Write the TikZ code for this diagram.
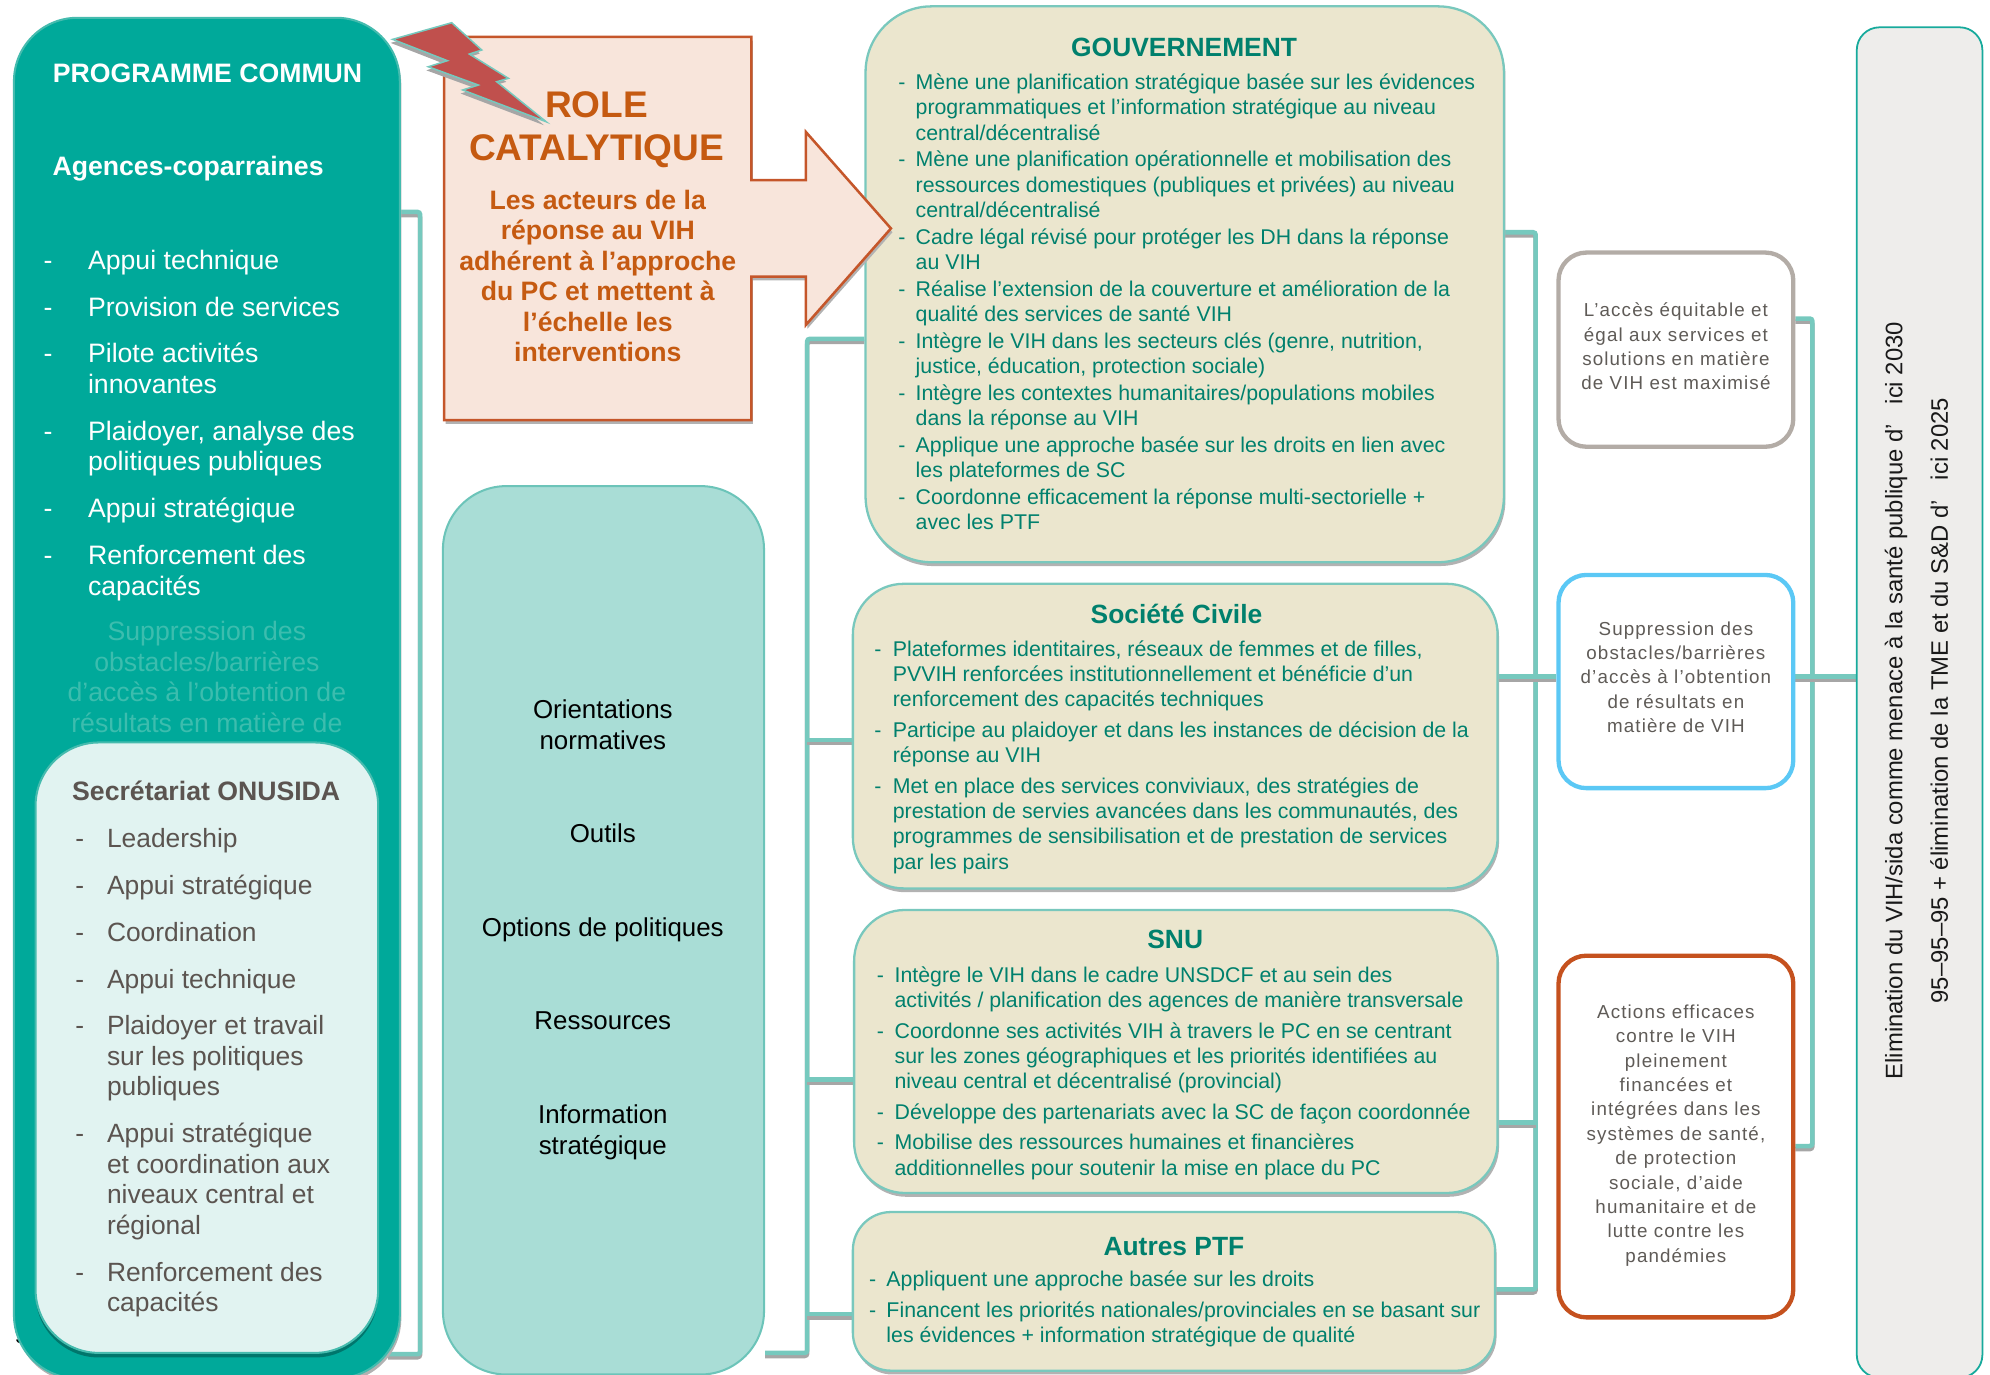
\documentclass[tikz,border=0pt]{standalone}
\usepackage{fontspec}
\setmainfont{Liberation Sans}
\newfontfamily\outfont[LetterSpace=6]{Liberation Sans}
\usepackage{tikz}
\usetikzlibrary{shapes,arrows,positioning,shadows,calc,backgrounds}
\definecolor{pcteal}{HTML}{00A99A}
\definecolor{pcedge}{HTML}{45BBAE}
\definecolor{fadetext}{HTML}{3CBDAE}
\definecolor{secfill}{HTML}{E1F3F1}
\definecolor{sectext}{HTML}{5B5450}
\definecolor{midfill}{HTML}{A9DDD6}
\definecolor{midedge}{HTML}{6CC4B9}
\definecolor{actfill}{HTML}{EBE6CE}
\definecolor{actedge}{HTML}{79C8BD}
\definecolor{acttext}{HTML}{00806D}
\definecolor{connteal}{HTML}{76C9BE}
\definecolor{rolefill}{HTML}{F8E5DB}
\definecolor{roleedge}{HTML}{C5562A}
\definecolor{roletext}{HTML}{C55A11}
\definecolor{boltred}{HTML}{C0504D}
\definecolor{outgray}{HTML}{B3ACA6}
\definecolor{outblue}{HTML}{5BC8F5}
\definecolor{outorange}{HTML}{C5511E}
\definecolor{outtext}{HTML}{5F5B57}
\definecolor{goalfill}{HTML}{EEEDEB}
\definecolor{goaledge}{HTML}{17AA9C}
\newcommand{\ctr}[1]{\begin{tabular}[t]{@{}c@{}}#1\end{tabular}}
\newcommand{\blst}[2]{\begin{tabular}[t]{@{}l@{\hspace{#1}}l@{}}#2\end{tabular}}

\begin{document}
\begin{tikzpicture}[x=0.5pt,y=-0.5pt,
    boxshadow/.style={drop shadow={shadow xshift=0.6pt, shadow yshift=-1.5pt, fill=black!30, opacity=1}},
    pcbox/.style={draw=pcedge, fill=pcteal, line width=0.8pt, rounded corners=25pt, inner sep=0, boxshadow},
    secbox/.style={draw=pcedge, fill=secfill, line width=0.8pt, rounded corners=25pt, inner sep=0,
        drop shadow={shadow xshift=0pt, shadow yshift=-1.8pt, fill=pcteal!70!black, opacity=1}},
    midbox/.style={draw=midedge, fill=midfill, line width=0.8pt, rounded corners=25pt, inner sep=0},
    actbox/.style={draw=actedge, fill=actfill, line width=0.9pt, rounded corners=#1, inner sep=0, boxshadow},
    outbox/.style={draw=#1, fill=white, line width=1.7pt, rounded corners=11pt, inner sep=0},
    goalbox/.style={draw=goaledge, fill=goalfill, line width=0.7pt, rounded corners=9pt, inner sep=0},
    conn/.style={draw=connteal, line width=1.8pt, rounded corners=1pt,
        preaction={draw=black!35, line width=1.8pt, transform canvas={yshift=-1.2pt}}},
    pctitle/.style={text=white, font=\bfseries\fontsize{10.5}{12}\selectfont, inner sep=0},
    pclist/.style={text=white, font=\fontsize{10.5}{12}\selectfont, anchor=base west, inner sep=0},
    sectitle/.style={text=sectext, font=\bfseries\fontsize{10.5}{12}\selectfont, anchor=base, inner sep=0},
    seclist/.style={text=sectext, font=\fontsize{10.4}{12}\selectfont, anchor=base west, inner sep=0},
    midlabel/.style={text=black, font=\fontsize{10.2}{12.4}\selectfont, anchor=base, inner sep=0},
    acttitle/.style={text=acttext, font=\bfseries\fontsize{10.4}{12}\selectfont, anchor=base, inner sep=0},
    actlist/.style={text=acttext, font=\fontsize{8.4}{10}\selectfont, anchor=base west, inner sep=0},
    outlabel/.style={text=outtext, font=\outfont\fontsize{7.4}{9.6}\selectfont, anchor=base, inner sep=0},
    goallabel/.style={text=black!90, font=\fontsize{9.4}{11}\selectfont, rotate=90, inner sep=0}]

    \useasboundingbox (0,0) rectangle (1568,1083);

    % page number hidden behind the box
    \node[text=black, font=\fontsize{10}{12}\selectfont, inner sep=0] (pagenum) at (17,1052) {9};

    % Programme commun
    \node[pcbox, minimum width=152pt, minimum height=536pt] (pc) at (163,550) {};
    \node[pctitle] (pcT) at (163.5,58) {PROGRAMME COMMUN};
    \node[pctitle, anchor=base west] (pcA) at (41,138) {Agences-coparraines};
    \node[pclist] (pcL) at (34,212) {\blst{14pt}{
        - & Appui technique\\[6.5pt]
        - & Provision de services\\[6.5pt]
        - & Pilote activités\\
          & innovantes\\[6.5pt]
        - & Plaidoyer, analyse des\\
          & politiques publiques\\[6.5pt]
        - & Appui stratégique\\[6.5pt]
        - & Renforcement des\\
          & capacités}};
    \node[pclist, anchor=base, text=fadetext] (pcF) at (163,505) {\ctr{Suppression des\\ obstacles/barrières\\ d’accès à l’obtention de\\ résultats en matière de}};

    % Secretariat ONUSIDA
    \node[secbox, minimum width=135pt, minimum height=240.5pt] (sec) at (163,825.5) {};
    \node[sectitle] (secT) at (162.5,630.5) {Secrétariat ONUSIDA};
    \node[seclist] (secL) at (59,667.5) {\blst{9pt}{
        - & Leadership\\[6.5pt]
        - & Appui stratégique\\[6.5pt]
        - & Coordination\\[6.5pt]
        - & Appui technique\\[6.5pt]
        - & Plaidoyer et travail\\
          & sur les politiques\\
          & publiques\\[6.5pt]
        - & Appui stratégique\\
          & et coordination aux\\
          & niveaux central et\\
          & régional\\[6.5pt]
        - & Renforcement des\\
          & capacités}};

    % Fonctions du programme commun
    \node[midbox, minimum width=126.5pt, minimum height=350pt] (mid) at (475.5,733) {};
    \node[midlabel] (midA) at (475,566) {\ctr{Orientations\\ normatives}};
    \node[midlabel] (midB) at (475,664) {Outils};
    \node[midlabel] (midC) at (475,738) {Options de politiques};
    \node[midlabel] (midD) at (475,811) {Ressources};
    \node[midlabel] (midE) at (475,885) {\ctr{Information\\ stratégique}};

    % Acteurs
    \node[actbox=26pt, minimum width=251.5pt, minimum height=219pt] (gov) at (933.5,224) {};
    \node[acttitle] (govT) at (933,44.4) {GOUVERNEMENT};
    \node[actlist] (govL) at (707.5,70.5) {\blst{4pt}{
        - & Mène une planification stratégique basée sur les évidences\\
          & programmatiques et l’information stratégique au niveau\\
          & central/décentralisé\\[0.5pt]
        - & Mène une planification opérationnelle et mobilisation des\\
          & ressources domestiques (publiques et privées) au niveau\\
          & central/décentralisé\\[0.5pt]
        - & Cadre légal révisé pour protéger les DH dans la réponse\\
          & au VIH\\[0.5pt]
        - & Réalise l’extension de la couverture et amélioration de la\\
          & qualité des services de santé VIH\\[0.5pt]
        - & Intègre le VIH dans les secteurs clés (genre, nutrition,\\
          & justice, éducation, protection sociale)\\[0.5pt]
        - & Intègre les contextes humanitaires/populations mobiles\\
          & dans la réponse au VIH\\[0.5pt]
        - & Applique une approche basée sur les droits en lien avec\\
          & les plateformes de SC\\[0.5pt]
        - & Coordonne efficacement la réponse multi-sectorielle +\\
          & avec les PTF}};

    \node[actbox=20pt, minimum width=254pt, minimum height=120pt] (sc) at (926,580) {};
    \node[acttitle] (scT) at (927,491) {Société Civile};
    \node[actlist] (scL) at (688.5,517) {\blst{4.5pt}{
        - & Plateformes identitaires, réseaux de femmes et de filles,\\
          & PVVIH renforcées institutionnellement et bénéficie d’un\\
          & renforcement des capacités techniques\\[2pt]
        - & Participe au plaidoyer et dans les instances de décision de la\\
          & réponse au VIH\\[2pt]
        - & Met en place des services conviviaux, des stratégies de\\
          & prestation de servies avancées dans les communautés, des\\
          & programmes de sensibilisation et de prestation de services\\
          & par les pairs}};

    \node[actbox=20pt, minimum width=253.5pt, minimum height=111.5pt] (snu) at (926.5,828.5) {};
    \node[acttitle] (snuT) at (926,747.4) {SNU};
    \node[actlist] (snuL) at (690.5,774) {\blst{4.2pt}{
        - & Intègre le VIH dans le cadre UNSDCF et au sein des\\
          & activités / planification des agences de manière transversale\\[2pt]
        - & Coordonne ses activités VIH à travers le PC en se centrant\\
          & sur les zones géographiques et les priorités identifiées au\\
          & niveau central et décentralisé (provincial)\\[2pt]
        - & Développe des partenariats avec la SC de façon coordonnée\\[2pt]
        - & Mobilise des ressources humaines et financières\\
          & additionnelles pour soutenir la mise en place du PC}};

    \node[actbox=15pt, minimum width=253pt, minimum height=62.5pt] (ptf) at (925,1017.5) {};
    \node[acttitle] (ptfT) at (925,989) {Autres PTF};
    \node[actlist] (ptfL) at (684.5,1014) {\blst{4pt}{
        - & Appliquent une approche basée sur les droits\\[2pt]
        - & Financent les priorités nationales/provinciales en se basant sur\\
          & les évidences + information stratégique de qualité}};

    % Role catalytique
    \draw[draw=roleedge, fill=rolefill, line width=1pt, boxshadow]
        (350,29) -- (592,29) -- (592,142) -- (635,142) -- (635,104) -- (702,180)
        -- (635,256) -- (635,218) -- (592,218) -- (592,331) -- (350,331) -- cycle;
    \filldraw[fill=boltred, draw=connteal, line width=0.6pt,
        drop shadow={shadow xshift=-0.8pt, shadow yshift=-1.4pt, fill=black!35, opacity=1}]
        (309.4,31) -- (355.9,17.9) -- (379.6,39.4) -- (369.8,42.6) -- (400.6,61.7)
        -- (391.4,64.4) -- (430.3,95.9) -- (364.6,70.9) -- (376.9,67) -- (337.5,52.6)
        -- (352.5,47.8) -- cycle;
    \node[text=roletext, font=\bfseries\fontsize{14.6}{17}\selectfont, anchor=base, inner sep=0] (roleT) at (470,92.5) {\ctr{ROLE\\ CATALYTIQUE}};
    \node[text=roletext, font=\bfseries\fontsize{10.5}{12}\selectfont, anchor=base, inner sep=0] (roleL) at (471,165) {\ctr{Les acteurs de la\\ réponse au VIH\\ adhérent à l’approche\\ du PC et mettent à\\ l’échelle les\\ interventions}};

    % Resultats
    \node[outbox=outgray, minimum width=92.5pt, minimum height=76.5pt] (outA) at (1320.5,275.5) {};
    \node[outlabel] (outAT) at (1320.5,249.5) {\ctr{L’accès équitable et\\ égal aux services et\\ solutions en matière\\ de VIH est maximisé}};
    \node[outbox=outblue, minimum width=92.5pt, minimum height=84pt] (outB) at (1320.5,537) {};
    \node[outlabel] (outBT) at (1320.5,500.5) {\ctr{Suppression des\\ obstacles/barrières\\ d’accès à l’obtention\\ de résultats en\\ matière de VIH}};
    \node[outbox=outorange, minimum width=92.5pt, minimum height=142.5pt] (outC) at (1320.5,895.5) {};
    \node[outlabel] (outCT) at (1320.5,802.5) {\ctr{Actions efficaces\\ contre le VIH\\ pleinement\\ financées et\\ intégrées dans les\\ systèmes de santé,\\ de protection\\ sociale, d’aide\\ humanitaire et de\\ lutte contre les\\ pandémies}};

    % Impact
    \node[goalbox, minimum width=49.5pt, minimum height=532pt] (goal) at (1512.5,553.5) {};
    \node[goallabel] (goalA) at (1494,552) {Elimination du VIH/sida comme menace à la santé publique d’\ \ \ ici 2030};
    \node[goallabel] (goalB) at (1528,552) {95–95–95 + élimination de la TME et du S\&D d’\ \ \ ici 2025};

    % Connecteurs
    \coordinate (jl1) at (331,167);
    \coordinate (jl2) at (331,1067);
    \coordinate (jm1) at (636,267);
    \coordinate (jm2) at (636,1066);
    \coordinate (jr1) at (1210,183);
    \coordinate (jr2) at (1210,1016);
    \coordinate (jo1) at (1428,251);
    \coordinate (jo2) at (1428,903);
    \coordinate (jb) at (1210,533);
    \begin{pgfonlayer}{background}
        \draw[conn] (pc.east |- jl1) -- (jl1) -- (jl2) -- ([xshift=-5pt]pc.east |- jl2);
        \draw[conn] (gov.west |- jm1) -- (jm1) -- (jm2) -- (mid.east |- jm2);
        \draw[conn] ([yshift=-1.5pt]jm1 |- sc.west) -- ([yshift=-1.5pt]sc.west);
        \draw[conn] ([yshift=-11pt]jm1 |- snu.west) -- ([yshift=-11pt]snu.west);
        \draw[conn] ([yshift=-9pt]jm1 |- ptf.west) -- ([yshift=-9pt]ptf.west);
        \draw[conn] (gov.east |- jr1) -- (jr1) -- (jr2) -- (ptf.east |- jr2);
        \draw[conn] ([yshift=-28pt]jr1 |- snu.east) -- ([yshift=-28pt]snu.east);
        \draw[conn] (sc.east |- jb) -- (outB.west |- jb);
        \draw[conn] (outA.east |- jo1) -- (jo1) -- (jo2) -- (outC.east |- jo2);
        \draw[conn] (outB.east |- jb) -- (goal.west |- jb);
    \end{pgfonlayer}
\end{tikzpicture}
\end{document}
